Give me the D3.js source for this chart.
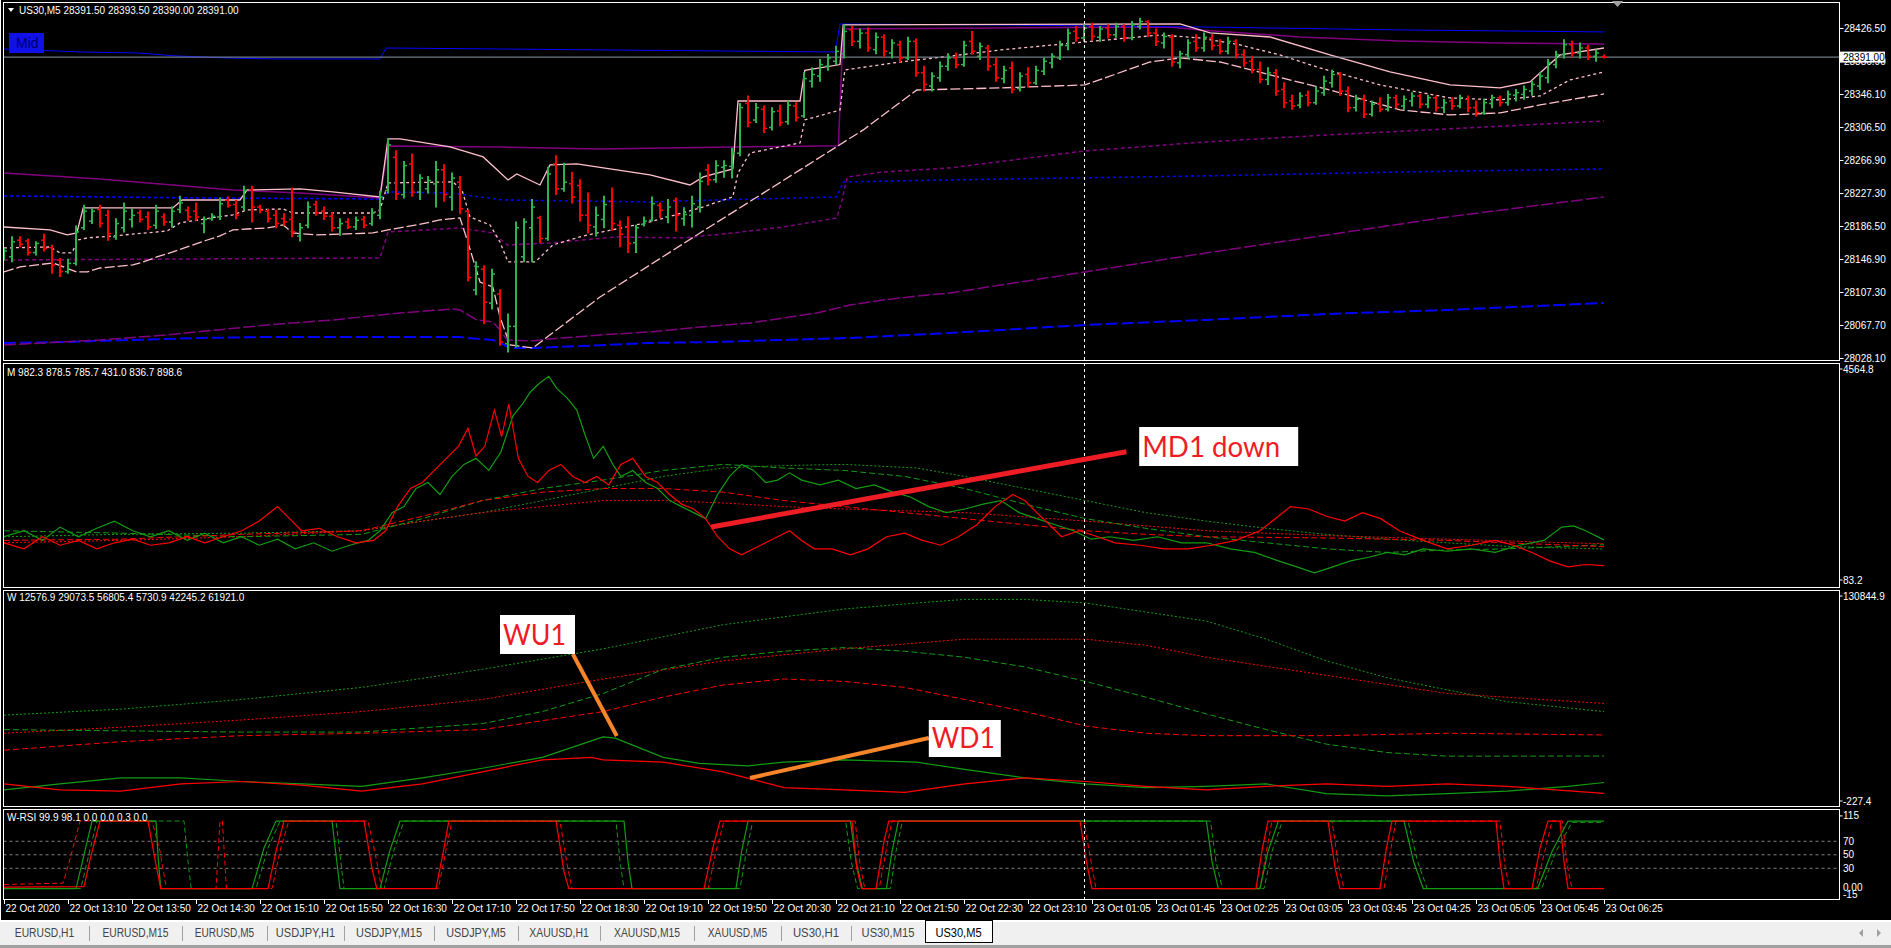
<!DOCTYPE html>
<html><head><meta charset="utf-8">
<script src="https://cdn.jsdelivr.net/npm/d3@7"></script>
<style>
html,body{margin:0;padding:0;background:#000;overflow:hidden}
svg{display:block}
</style></head><body>
<svg id="chart" width="1891" height="948"></svg>
<script>
// ---------------- DATA ----------------
const symbolTitle = "US30,M5";
const headerPrices = ["28391.50", "28393.50", "28390.00", "28391.00"];
const currentPrice = 28391.00;
const priceTicks = [28426.50, 28386.90, 28346.10, 28306.50, 28266.90, 28227.30, 28186.50, 28146.90, 28107.30, 28067.70, 28028.10];
const timeLabels = ["22 Oct 2020","22 Oct 13:10","22 Oct 13:50","22 Oct 14:30","22 Oct 15:10","22 Oct 15:50","22 Oct 16:30","22 Oct 17:10","22 Oct 17:50","22 Oct 18:30","22 Oct 19:10","22 Oct 19:50","22 Oct 20:30","22 Oct 21:10","22 Oct 21:50","22 Oct 22:30","22 Oct 23:10","23 Oct 01:05","23 Oct 01:45","23 Oct 02:25","23 Oct 03:05","23 Oct 03:45","23 Oct 04:25","23 Oct 05:05","23 Oct 05:45","23 Oct 06:25"];
const timeLabelBars = [0,8,16,24,32,40,48,56,64,72,80,88,96,104,112,120,128,136,144,152,160,168,176,184,192,200];
const crosshairBar = 135;
const tabNames = ["EURUSD,H1","EURUSD,M15","EURUSD,M5","USDJPY,H1","USDJPY,M15","USDJPY,M5","XAUUSD,H1","XAUUSD,M15","XAUUSD,M5","US30,H1","US30,M15","US30,M5"];
const activeTab = "US30,M5";

// OHLC bars [open, high, low, close]
const ohlc = [
[28148,28160,28146,28157],[28150,28174,28144,28168],[28170,28174,28162,28165],[28169,28171,28152,28155],[28155,28168,28152,28166],
[28170,28177,28157,28160],[28161,28164,28130,28140],[28146,28148,28126,28132],[28132,28147,28130,28142],[28142,28187,28140,28180],
[28185,28212,28183,28205],[28193,28208,28190,28205],[28207,28212,28186,28190],[28200,28206,28170,28178],[28174,28196,28171,28190],
[28185,28215,28180,28205],[28195,28208,28186,28200],[28203,28206,28192,28195],[28198,28204,28183,28186],[28188,28212,28184,28205],
[28198,28202,28188,28192],[28192,28210,28186,28205],[28207,28223,28203,28215],[28206,28210,28194,28198],[28205,28215,28194,28198],
[28190,28198,28179,28195],[28196,28202,28194,28199],[28198,28221,28195,28214],[28218,28222,28210,28212],[28213,28218,28196,28200],
[28210,28235,28206,28230],[28231,28235,28192,28210],[28210,28212,28203,28206],[28205,28207,28192,28196],[28200,28206,28185,28190],
[28196,28202,28188,28192],[28195,28233,28174,28180],[28175,28190,28169,28185],[28188,28216,28185,28210],[28213,28217,28200,28203],
[28205,28210,28195,28199],[28199,28203,28181,28185],[28185,28196,28176,28190],[28192,28196,28184,28186],[28186,28198,28183,28194],
[28195,28199,28185,28188],[28190,28208,28188,28203],[28200,28229,28196,28222],[28230,28292,28227,28285],[28270,28278,28219,28226],
[28225,28265,28221,28260],[28262,28274,28223,28228],[28228,28249,28219,28245],[28232,28247,28227,28242],[28238,28265,28210,28255],
[28255,28261,28217,28225],[28222,28251,28206,28245],[28240,28247,28202,28208],[28205,28206,28121,28125],[28110,28144,28104,28138],
[28135,28139,28069,28095],[28094,28135,28087,28129],[28105,28110,28043,28047],[28045,28081,28035,28066],[28066,28192,28041,28185],
[28150,28196,28144,28192],[28185,28219,28144,28210],[28197,28199,28167,28172],[28172,28258,28170,28250],[28262,28272,28225,28232],
[28232,28263,28229,28240],[28238,28252,28215,28222],[28236,28243,28193,28200],[28200,28227,28179,28188],[28186,28210,28175,28200],
[28195,28223,28185,28213],[28217,28233,28182,28190],[28188,28193,28162,28177],[28186,28198,28155,28166],[28167,28188,28155,28185],
[28189,28198,28187,28193],[28194,28222,28193,28214],[28212,28215,28197,28206],[28198,28219,28191,28210],[28218,28221,28181,28200],
[28196,28209,28188,28201],[28200,28223,28186,28214],[28210,28251,28204,28241],[28255,28261,28237,28243],[28243,28266,28240,28260],
[28258,28266,28246,28260],[28259,28281,28245,28275],[28275,28335,28272,28330],[28335,28344,28307,28312],[28315,28335,28312,28330],
[28328,28332,28300,28305],[28306,28330,28303,28325],[28326,28333,28308,28312],[28313,28338,28310,28333],[28332,28336,28314,28318],
[28320,28372,28318,28365],[28362,28378,28355,28370],[28368,28388,28362,28382],[28380,28394,28375,28390],[28386,28404,28382,28398],
[28395,28430,28390,28422],[28424,28428,28405,28410],[28410,28425,28402,28420],[28420,28426,28398,28402],[28400,28420,28395,28415],
[28415,28418,28392,28398],[28396,28412,28390,28408],[28406,28410,28385,28390],[28390,28415,28388,28410],[28410,28413,28368,28372],
[28372,28380,28350,28358],[28356,28372,28350,28368],[28366,28385,28362,28380],[28380,28395,28375,28390],[28390,28396,28378,28382],
[28382,28410,28380,28405],[28410,28422,28395,28398],[28392,28408,28388,28404],[28402,28405,28375,28380],[28382,28390,28362,28366],
[28365,28380,28360,28375],[28378,28385,28348,28352],[28353,28372,28350,28368],[28370,28378,28355,28360],[28360,28380,28358,28375],
[28374,28390,28370,28386],[28384,28395,28378,28392],[28390,28410,28388,28405],[28405,28425,28400,28420],[28422,28428,28410,28414],
[28414,28430,28410,28426],[28428,28432,28412,28416],[28415,28428,28410,28425],[28426,28430,28414,28418],[28418,28432,28415,28428],
[28428,28430,28410,28414],[28414,28434,28412,28430],[28428,28438,28425,28434],[28434,28435,28416,28420],[28420,28425,28405,28410],
[28408,28420,28402,28416],[28415,28418,28380,28385],[28384,28398,28378,28395],[28394,28412,28390,28408],[28410,28418,28398,28402],
[28402,28420,28398,28415],[28414,28418,28400,28405],[28405,28412,28395,28398],[28398,28415,28395,28410],[28410,28412,28390,28394],
[28394,28400,28380,28384],[28386,28392,28372,28376],[28376,28385,28360,28364],[28364,28378,28358,28372],[28372,28376,28345,28350],
[28352,28360,28330,28336],[28338,28345,28328,28332],[28333,28348,28330,28344],[28345,28350,28332,28336],[28336,28355,28334,28350],
[28348,28368,28345,28362],[28360,28375,28355,28370],[28370,28372,28345,28350],[28350,28355,28325,28330],[28330,28345,28326,28340],
[28340,28345,28318,28322],[28322,28338,28320,28334],[28335,28342,28325,28328],[28328,28346,28326,28342],[28342,28345,28330,28334],
[28332,28344,28328,28340],[28338,28348,28332,28344],[28344,28346,28330,28334],[28334,28345,28330,28342],[28342,28344,28326,28330],
[28330,28340,28324,28336],[28338,28342,28328,28332],[28332,28345,28330,28342],[28340,28344,28325,28330],[28330,28338,28320,28324],
[28324,28340,28322,28336],[28335,28345,28330,28342],[28342,28344,28332,28336],[28336,28350,28333,28346],[28345,28352,28338,28348],
[28346,28356,28340,28352],[28350,28362,28345,28358],[28356,28372,28352,28368],[28366,28388,28360,28384],[28382,28398,28378,28394],
[28394,28412,28390,28406],[28406,28410,28392,28396],[28396,28408,28390,28402],[28402,28405,28388,28392],[28392,28400,28386,28396],
[28391.5,28393.5,28390,28391]
];

// main-pane indicator lines: [barIndex, price]
const blueUpper = [[0,28400.8],[6.6,28398.4],[9.5,28397.2],[16.6,28396],[21.6,28392.4],[27.9,28390],[33.6,28388.8],[47,28388.8],[47.75,28402],[103.9,28397.2],[104.5,28431],[124.5,28429.8],[149.5,28427.4],[174.5,28423.8],[200,28421.4]];
const purpleUpper = [[0,28251.1],[12,28243.9],[28.6,28230.6],[37,28227],[47,28221],[48,28283.7],[62,28282.5],[74.5,28280.1],[91.1,28282.5],[104.3,28284],[104.9,28425],[124.5,28426.2],[145.75,28427.4],[149.5,28423.8],[162,28415.3],[174.5,28410.5],[187,28408.1],[200,28406.9]];
const pinkUpper = [[0,28185.9],[5.75,28182.3],[7.9,28176.3],[9.1,28178.7],[9.9,28208.9],[21.1,28208.9],[22.25,28218.5],[29.5,28218.5],[30.4,28230.6],[37,28231.8],[41.1,28228.2],[47,28222.2],[48,28292.2],[49.5,28292.2],[55.75,28282.5],[59.9,28270.5],[63,28242.7],[64.1,28249.9],[67,28236.6],[68.25,28260.8],[71.6,28262],[80.75,28248.7],[85.75,28236.6],[87.4,28246.3],[91.1,28256],[91.75,28338],[99.5,28338],[100.1,28375],[104.5,28382],[104.9,28430],[147,28431],[150.75,28420.2],[158.25,28415.3],[165.75,28393.6],[173.25,28373.1],[180.75,28357.4],[187,28353.8],[190.75,28361],[194.5,28393.6],[200,28402]];
const pinkMiddle = [[0,28160.6],[5.75,28161.8],[7,28154.6],[8.5,28154.6],[9.25,28170.2],[10.4,28172.7],[13.6,28175.1],[20.4,28181.1],[22,28190.8],[26.6,28198],[28.6,28200.4],[30.4,28206.5],[34.9,28207.7],[36.1,28202.8],[46.1,28202.8],[47,28206.5],[48,28239.1],[56.1,28240.3],[57.25,28230.6],[58.25,28198],[60.75,28188.4],[62,28167.8],[63,28143.7],[66.4,28143.7],[68.6,28164.2],[72.4,28175.1],[80.75,28192],[87,28208.9],[91.1,28222.2],[91.75,28251.1],[93.25,28275.3],[99.5,28287.4],[100.1,28315.1],[104.5,28327.2],[105.1,28375.5],[112,28385.1],[119.5,28393.6],[124.5,28399.6],[135.1,28409.3],[144.5,28417.7],[149.5,28414.1],[154.5,28405.7],[159.5,28393.6],[164.5,28377.9],[172,28357.4],[180.75,28341.7],[187,28339.3],[192,28344.1],[195.75,28363.4],[200,28373.1]];
const pinkLower = [[0,28131.6],[2,28137.7],[6.1,28142.5],[9.1,28131.6],[10.4,28131.6],[12,28136.4],[16.1,28140.1],[17.4,28143.7],[19.1,28149.7],[21.1,28155.8],[22.9,28161.8],[25.4,28170.2],[27,28175.1],[28.6,28182.3],[30.4,28183.5],[32.9,28184.7],[34.9,28188.4],[36.1,28178.7],[39.1,28176.3],[46.1,28178.7],[48,28182.3],[51.6,28188.4],[54.5,28194.4],[57,28196.8],[57.9,28170.2],[59.5,28119.5],[61.1,28113.5],[62,28077.3],[63.25,28043.5],[66.1,28039.9],[74.5,28101.4],[87,28178.7],[99.5,28254.8],[107.4,28303.1],[114.1,28351.3],[124.5,28353.8],[135.1,28357.4],[143.25,28385.1],[147,28390],[152,28385.1],[158.25,28369.5],[165.75,28351.3],[174.5,28327.2],[180.75,28321.2],[187,28323.6],[192,28333.2],[200,28346.5]];
const blueDotted = [[0,28223.4],[24.5,28221],[47,28219.7],[48,28228.2],[55.75,28227],[62.4,28218.5],[72.4,28217.3],[80.75,28216.1],[89.1,28218.5],[99.5,28221],[104.1,28222.2],[104.9,28240.3],[118.25,28242.7],[149.5,28247.5],[174.5,28252.3],[200,28256]];
const blueLower = [[0,28045.9],[7.9,28047.1],[16.1,28049.5],[24.5,28051.9],[32.9,28053.1],[57,28053.1],[57.9,28051.9],[61.1,28049.5],[62,28045.9],[63.25,28039.9],[66.1,28039.9],[72.4,28042.3],[80.75,28045.9],[89.1,28047.1],[97.4,28049.5],[105.75,28051.9],[118.25,28057.9],[135.1,28067.6],[150.25,28073.7],[165.4,28080.9],[180.4,28085.7],[200,28094.2]];
const purpleDashed = [[0,28146.1],[47,28148.5],[48,28179.9],[57,28184.7],[61.1,28178.7],[62.9,28164.2],[68.25,28166.6],[76.6,28173.9],[84.9,28172.7],[91.1,28178.7],[97.4,28185.9],[104.1,28196.8],[104.75,28218.5],[105.4,28246.3],[109.9,28252.3],[118.25,28257.2],[135.1,28277.7],[150.25,28288.6],[165.4,28297],[180.4,28304.3],[200,28313.9]];
const purpleLower = [[0,28043.5],[12,28049.5],[20.4,28055.6],[32.9,28067.6],[41.1,28073.7],[49.5,28082.1],[56.1,28086.9],[57,28085.7],[59.1,28073.7],[61.1,28071.2],[62,28061.6],[62.9,28049.5],[65.75,28048.3],[68.25,28050.7],[74.5,28055.6],[80.75,28059.2],[87,28065.2],[93.25,28070],[97.4,28076.1],[101.6,28082.1],[105.75,28091.8],[109.9,28097.8],[114.1,28102.6],[118.25,28106.3],[135.1,28131.6],[150.25,28154.6],[165.4,28176.3],[180.4,28198],[200,28222.2]];

// "M" sub-window
const mHeader = ["982.3","878.5","785.7","431.0","836.7","898.6"];
const mRange = [83.2, 4564.8];
const mGreen = [[0,1049],[2.5,1177],[4.8,971],[7,1255],[9.3,1049],[11.6,1229],[13.8,1383],[16.1,1177],[18.3,1049],[20.6,1177],[22.9,971],[25.1,1126],[27.4,920],[29.7,1049],[31.9,868],[34.2,997],[36.4,791],[38.7,920],[41,740],[43.2,868],[45.5,971],[47,1177],[48.5,1564],[50,1692],[51.5,2078],[53,2207],[54.5,1950],[56,2336],[57.5,2593],[59,2722],[60.6,2464],[62.1,2851],[63.6,3623],[64.8,3880],[65.8,4138],[66.9,4318],[68.1,4472],[69.1,4215],[70.4,4009],[71.6,3751],[72.6,3237],[73.7,2722],[74.9,2979],[76.1,2593],[77.1,2336],[78.6,2464],[80.2,2207],[81.7,2078],[83.2,1821],[84.7,1692],[86.2,1564],[87.7,1435],[89.2,1950],[90.7,2336],[92.2,2593],[93.7,2464],[95.2,2207],[96.7,2258],[98.2,2413],[99.7,2258],[102,2155],[104.3,2258],[106.5,2078],[108.8,2155],[111.1,2001],[113.3,1898],[115.6,1692],[117.8,1564],[120.1,1641],[122.4,1744],[124.6,1821],[126.9,1564],[129.1,1435],[131.4,1306],[133.7,1177],[135.9,997],[138.2,1049],[141.2,971],[144.2,1049],[147.2,920],[150.3,920],[153.3,791],[156.3,714],[159.3,534],[161.6,405],[163.8,277],[166.1,405],[168.3,534],[170.6,611],[172.9,714],[175.1,663],[177.4,791],[180.4,740],[183.4,791],[186.4,714],[189.4,868],[192.5,971],[194.7,1255],[196.2,1280],[197.7,1177],[200,982.3]];
const mRed = [[0,920],[2.5,791],[4.8,1049],[7,868],[9.3,971],[11.6,791],[13.8,920],[16.1,997],[18.3,868],[20.6,920],[22.9,1049],[25.1,920],[27.4,1049],[29.7,1177],[31.9,1383],[34.2,1692],[35.7,1435],[37.2,1177],[39.4,1229],[41.7,1049],[44,920],[46.2,971],[47.7,1177],[49.2,1692],[50.8,2078],[52.3,2207],[53.8,2464],[55.3,2722],[56.8,2979],[58,3365],[59,2773],[60.1,2979],[61.3,3751],[62.2,3185],[63.1,3880],[64.3,2722],[65.5,2336],[66.7,2207],[68.1,2464],[69.6,2593],[71.1,2336],[72.6,2207],[74.1,2336],[75.6,2155],[77.1,2593],[78.6,2722],[80.2,2336],[81.7,2207],[83.2,1950],[84.7,1744],[86.2,1641],[87.7,1435],[89.2,1049],[90.7,791],[92.2,663],[93.7,791],[95.2,920],[96.7,1049],[98.2,1177],[99.7,971],[101.3,791],[103.5,791],[105.8,663],[108,791],[110.3,1049],[112.6,1126],[114.8,971],[117.1,868],[119.3,1049],[121.6,1306],[123.9,1692],[126.1,1950],[127.6,1821],[129.1,1564],[130.7,1306],[132.2,1049],[134.4,1177],[136.7,1049],[138.9,920],[142,868],[145,791],[148,791],[151,868],[154,971],[157,1177],[159.3,1486],[160.8,1692],[163.1,1641],[165.3,1486],[167.6,1383],[169.8,1564],[172.1,1435],[174.4,1177],[177.4,971],[180.4,791],[183.4,868],[186.4,971],[188.7,868],[191,714],[193.2,534],[195.5,405],[197.7,457],[200,431]];
const mGreenDash = [[0,1177],[14.6,1126],[29.7,1049],[44.7,1100],[52.3,1435],[59.8,1821],[67.3,2078],[74.9,2258],[82.4,2464],[89.9,2593],[97.5,2516],[105,2464],[112.6,2336],[120.1,2078],[127.6,1744],[135.2,1435],[142.7,1229],[150.3,1049],[157.8,920],[165.3,791],[172.9,714],[180.4,766],[187.9,791],[200,878.5]];
const mGreenDot = [[0,1049],[14.6,1100],[29.7,1126],[44.7,1177],[52.3,1383],[59.8,1564],[67.3,1821],[74.9,2078],[82.4,2336],[89.9,2516],[97.5,2568],[105,2593],[114.1,2516],[120.1,2336],[127.6,2078],[135.2,1821],[142.7,1564],[150.3,1383],[157.8,1229],[165.3,1100],[172.9,997],[180.4,920],[187.9,843],[200,785.7]];
const mRedDash = [[0,971],[14.6,997],[29.7,1100],[44.7,1177],[52.3,1486],[59.8,1821],[67.3,2001],[74.9,2078],[82.4,2078],[89.9,2001],[97.5,1821],[105,1692],[112.6,1564],[120.1,1435],[127.6,1306],[135.2,1177],[142.7,1100],[150.3,1049],[165.3,1023],[180.4,971],[200,836.7]];
const mRedDot = [[0,920],[14.6,971],[29.7,1049],[44.7,1177],[52.3,1383],[59.8,1564],[67.3,1692],[74.9,1821],[82.4,1821],[89.9,1770],[97.5,1692],[105,1641],[120.1,1564],[135.2,1383],[150.3,1177],[165.3,1074],[180.4,997],[200,898.6]];

// "W" sub-window
const wHeader = ["12576.9","29073.5","56805.4","5730.9","42245.2","61921.0"];
const wRange = [-227.4, 130844.9];
const wGreen = [[0,7922],[7,11686],[14.6,15450],[22.1,15450],[29.7,13192],[37.2,11686],[44.7,10181],[52.3,15450],[59.8,21473],[67.3,28248],[74.9,41045],[76.4,40292],[82.4,28248],[86.9,24484],[93,22978],[97.5,25237],[105,26742],[114.1,25237],[120.1,20720],[127.6,15450],[135.2,11686],[142.7,9428],[150.3,10181],[157.8,11686],[165.3,5664],[172.9,4158],[180.4,5664],[187.9,7170],[195.5,10181],[200,12576.9]];
const wGreenDash = [[0,45563],[14.6,44810],[29.7,44057],[44.7,44057],[59.8,49326],[67.3,56854],[74.9,68146],[82.4,83202],[89.9,90730],[97.5,94494],[105,96752],[112.6,94494],[120.1,90730],[127.6,84708],[135.2,75674],[142.7,65888],[150.3,55349],[157.8,45563],[165.3,36528],[172.9,31259],[180.4,29000],[200,29073.5]];
const wGreenDot = [[0,54596],[14.6,58360],[29.7,64382],[44.7,71910],[59.8,83202],[74.9,95999],[89.9,111056],[105,120842],[114.1,124606],[120.1,126864],[127.6,126864],[135.2,124606],[150.3,113314],[157.8,102022],[165.3,88471],[172.9,77932],[180.4,70404],[187.9,63000],[200,56805.4]];
const wRed = [[0,11686],[7,7922],[14.6,7170],[22.1,11686],[29.7,13192],[37.2,10934],[44.7,7170],[52.3,11686],[59.8,19214],[67.3,26742],[73.4,28248],[74.9,26742],[82.4,25237],[89.9,19214],[97.5,9428],[105,7922],[112.6,6417],[120.1,11686],[127.6,15450],[135.2,13192],[142.7,10181],[150.3,7922],[157.8,10181],[165.3,11686],[172.9,10181],[180.4,11686],[187.9,10181],[200,5730.9]];
const wRedDash = [[0,32764],[14.6,38034],[29.7,41798],[44.7,43304],[59.8,45563],[74.9,56854],[82.4,65888],[89.9,73415],[97.5,77179],[105,75674],[112.6,71910],[120.1,64382],[127.6,56854],[135.2,47821],[142.7,43304],[150.3,41798],[165.3,41798],[180.4,43304],[200,42245.2]];
const wRedDot = [[0,43304],[14.6,47068],[29.7,51585],[44.7,56854],[59.8,64382],[74.9,77179],[89.9,88471],[105,95999],[120.1,102022],[135.2,102022],[142.7,98258],[150.3,90730],[165.3,79438],[180.4,68146],[200,61921]];

// "W-RSI" sub-window
const rsiHeader = ["99.9","98.1","0.0","0.0","0.3","0.0"];
const rsiRange = [-15, 115];
const rsiLevels = [70, 50, 30];
const rsiAxisLabels = ["115","70","50","30"];
const rsiRed = [[0,2],[10,3],[10.8,45],[12,100],[18,100],[19,35],[19.6,0],[33,0],[34,55],[35,100],[45,100],[46,30],[46.6,0],[54,0],[55,60],[55.6,100],[69,100],[70,25],[70.6,0],[87.5,0],[88.6,60],[89.5,100],[106,100],[106.6,30],[107.2,0],[109,0],[110,70],[110.6,100],[134.5,100],[135.3,40],[136,0],[156.5,0],[157.3,60],[158,100],[165.5,100],[166.4,30],[167,0],[172,0],[172.8,60],[173.5,100],[186.5,100],[187,40],[187.5,0],[191,0],[192,60],[193,100],[194.5,100],[195,40],[195.5,0],[200,0]];
const rsiRedDash = [[0,6],[7.4,8],[8.4,50],[9.5,100],[18.5,100],[19.5,55],[20.3,0],[26.5,0],[27,100],[27.3,100],[27.8,0],[33.5,0],[34.6,60],[35.6,100],[45.5,100],[46.6,40],[47.2,0],[54.3,0],[55.3,60],[56,100],[69.5,100],[70.4,35],[71,0],[88,0],[89,55],[90,100],[106.4,100],[107,35],[107.6,0],[109.4,0],[110.4,65],[111,100],[135,100],[135.8,45],[136.5,0],[157,0],[157.8,55],[158.5,100],[166,100],[166.8,35],[167.5,0],[172.5,0],[173.3,55],[174,100],[187,100],[187.6,35],[188.2,0],[191.5,0],[192.6,55],[193.5,100],[194.8,100],[195.4,35],[196,0],[200,0.3]];
const rsiGreen = [[0,0],[9,0],[10,50],[11,100],[19,100],[19.3,40],[19.6,0],[31,0],[32.5,60],[34,100],[41,100],[41.6,40],[42,0],[47,0],[48.2,55],[49.5,100],[77.5,100],[78,40],[78.5,0],[91.5,0],[92.2,55],[93,100],[105.8,100],[106.5,40],[107.3,0],[110.3,0],[111,55],[111.8,100],[150.3,100],[151,40],[151.8,0],[157,0],[158,55],[159.3,100],[175,100],[176.2,40],[177.4,0],[191.7,0],[193.5,55],[195.5,100],[200,99.9]];
const rsiGreenDash = [[0,0],[9.6,0],[10.6,50],[11.6,100],[22.5,100],[23,40],[23.4,0],[31.5,0],[33,60],[34.5,100],[41.5,100],[42.1,40],[42.5,0],[47.5,0],[48.7,55],[50,100],[76.5,100],[77,40],[77.5,0],[92,0],[92.8,55],[93.6,100],[105.2,100],[105.9,40],[106.7,0],[110.8,0],[111.5,55],[112.3,100],[150.8,100],[151.5,40],[152.3,0],[157.5,0],[158.5,55],[159.8,100],[175.5,100],[176.7,40],[177.9,0],[192.2,0],[194,55],[196,98.1],[200,98.1]];

// annotations (anchored in data units)
const md1Line = [[88.4,1257],[140.3,2864]];
const md1Box = {bar:141.9, value:3391, text:"MD1 down"};
const wu1Line = [[71.1,92779],[76.6,41594]];
const wu1Box = {bar:62, value:117122, text:"WU1"};
const wd1Line = [[93.25,15378],[115.6,40346]];
const wd1Box = {bar:115.6, value:51581, text:"WD1"};

// ---------------- DRAWING ----------------
const FONT = '"Liberation Sans", Arial, sans-serif';
const svg = d3.select('#chart');
svg.append('rect').attr('width',1891).attr('height',948).attr('fill','#000');

const XL = 3.5, XR = 1839.5;
const panes = {
  main:{top:2.5,bottom:360.5},
  m:{top:363.5,bottom:587.5},
  w:{top:590.5,bottom:806.5},
  rsi:{top:809.5,bottom:899.5}
};
const x = d3.scaleLinear().domain([0,200]).range([4,1604]);
const yMain = d3.scaleLinear().domain([28028.1,28426.5]).range([357.7,27.7]);
const yM = d3.scaleLinear().domain(mRange).range([582,372]);
const yW = d3.scaleLinear().domain(wRange).range([803,593]);
const yR = d3.scaleLinear().domain(rsiRange).range([898.7,810.9]);

const defs = svg.append('defs');
const G = {};
Object.entries(panes).forEach(([k,p])=>{
  defs.append('clipPath').attr('id','clip-'+k).append('rect')
    .attr('x',XL+0.5).attr('y',p.top+0.5).attr('width',XR-XL-1).attr('height',p.bottom-p.top-1);
  G[k] = svg.append('g').attr('clip-path','url(#clip-'+k+')');
});

function drawLine(g, data, ys, color, width, dash){
  g.append('path').datum(data)
   .attr('d', d3.line().x(d=>x(d[0])).y(d=>ys(d[1])))
   .attr('fill','none').attr('stroke',color).attr('stroke-width',width)
   .attr('stroke-dasharray',dash||null);
}

// main pane lines
const PINK='#ffc0cb', PURPLE='#800080', BLUE='#0000ff';
drawLine(G.main, blueLower, yMain, BLUE, 2, '12,4');
drawLine(G.main, purpleLower, yMain, PURPLE, 1.5, '12,3');
drawLine(G.main, blueDotted, yMain, BLUE, 1.5, '3,3');
drawLine(G.main, purpleDashed, yMain, PURPLE, 1.5, '4,3');
drawLine(G.main, purpleUpper, yMain, PURPLE, 1.5, null);
drawLine(G.main, blueUpper, yMain, BLUE, 1, null);
drawLine(G.main, pinkLower, yMain, PINK, 1.3, '10,3');
drawLine(G.main, pinkMiddle, yMain, PINK, 1.3, '3,3');
drawLine(G.main, pinkUpper, yMain, PINK, 1.3, null);

// current price line
G.main.append('line').attr('x1',XL).attr('x2',XR)
  .attr('y1',yMain(currentPrice)).attr('y2',yMain(currentPrice))
  .attr('stroke','#8c9aa6').attr('stroke-width',1);

// OHLC bars
const UP='#2fb34f', DOWN='#ff0000';
const col = d=> d[3]>=d[0]?UP:DOWN;
G.main.selectAll('line.hl').data(ohlc).join('line').attr('class','hl')
  .attr('x1',(d,i)=>x(i)).attr('x2',(d,i)=>x(i))
  .attr('y1',d=>yMain(d[1])-0.5).attr('y2',d=>yMain(d[2])+0.5)
  .attr('stroke',col).attr('stroke-width',2);
G.main.selectAll('line.op').data(ohlc).join('line').attr('class','op')
  .attr('x1',(d,i)=>x(i)-3).attr('x2',(d,i)=>x(i))
  .attr('y1',d=>yMain(d[0])).attr('y2',d=>yMain(d[0]))
  .attr('stroke',col).attr('stroke-width',1.5);
G.main.selectAll('line.cl').data(ohlc).join('line').attr('class','cl')
  .attr('x1',(d,i)=>x(i)).attr('x2',(d,i)=>x(i)+3)
  .attr('y1',d=>yMain(d[3])).attr('y2',d=>yMain(d[3]))
  .attr('stroke',col).attr('stroke-width',1.5);

// "Mid" label
G.main.append('rect').attr('x',9).attr('y',33).attr('width',35).attr('height',20).attr('fill','#1010e8');
G.main.append('text').attr('x',16).attr('y',48).text('Mid')
  .attr('font-family',FONT).attr('font-size',14).attr('fill','#000070');

// M pane
const GREEN='#139b13', RED='#ff0000';
drawLine(G.m, mGreenDot, yM, GREEN, 1, '2,2');
drawLine(G.m, mRedDot, yM, RED, 1, '2,2');
drawLine(G.m, mGreenDash, yM, GREEN, 1, '6,3');
drawLine(G.m, mRedDash, yM, RED, 1, '6,3');
drawLine(G.m, mGreen, yM, GREEN, 1.2, null);
drawLine(G.m, mRed, yM, RED, 1.2, null);

// W pane
drawLine(G.w, wGreenDot, yW, GREEN, 1, '2,2');
drawLine(G.w, wRedDot, yW, RED, 1, '2,2');
drawLine(G.w, wGreenDash, yW, GREEN, 1, '6,3');
drawLine(G.w, wRedDash, yW, RED, 1, '6,3');
drawLine(G.w, wGreen, yW, GREEN, 1.2, null);
drawLine(G.w, wRed, yW, RED, 1.2, null);

// RSI pane
rsiLevels.forEach(v=>{
  G.rsi.append('line').attr('x1',XL).attr('x2',XR).attr('y1',yR(v)).attr('y2',yR(v))
   .attr('stroke','#808080').attr('stroke-dasharray','3,3');
});
drawLine(G.rsi, rsiGreenDash, yR, GREEN, 1, '5,3');
drawLine(G.rsi, rsiRedDash, yR, RED, 1, '5,3');
drawLine(G.rsi, rsiGreen, yR, GREEN, 1.2, null);
drawLine(G.rsi, rsiRed, yR, RED, 1.2, null);

// pane frames
Object.values(panes).forEach(p=>{
  svg.append('rect').attr('x',XL).attr('y',p.top).attr('width',XR-XL).attr('height',p.bottom-p.top)
    .attr('fill','none').attr('stroke','#fff').attr('stroke-width',1);
});
svg.append('line').attr('x1',0.5).attr('x2',0.5).attr('y1',0).attr('y2',920).attr('stroke','#fff');

// crosshair
svg.append('line').attr('x1',x(crosshairBar)+0.5).attr('x2',x(crosshairBar)+0.5).attr('y1',3).attr('y2',899)
  .attr('stroke','#fff').attr('stroke-dasharray','3,3').attr('stroke-width',1);

// headers
function txt(xp,yp,s,opts={}){
  return svg.append('text').attr('x',xp).attr('y',yp).text(s)
    .attr('font-family',FONT).attr('font-size',opts.size||10).attr('fill',opts.fill||'#fff')
    .attr('text-anchor',opts.anchor||'start');
}
svg.append('path').attr('d','M8,8 L14,8 L11,12 Z').attr('fill','#fff');
txt(19,14, symbolTitle + '  ' + headerPrices.join(' '));
txt(7,376, 'M ' + mHeader.join(' '));
txt(7,601, 'W ' + wHeader.join(' '));
txt(7,821, 'W-RSI ' + rsiHeader.join(' '));

// right axis - main
priceTicks.forEach(v=>{
  const yy=Math.round(yMain(v))+0.5;
  svg.append('line').attr('x1',XR).attr('x2',XR+4).attr('y1',yy).attr('y2',yy).attr('stroke','#fff');
  txt(1844, yy+3.5, v.toFixed(2));
});
// current price marker
svg.append('rect').attr('x',1840).attr('y',yMain(currentPrice)-5.5).attr('width',45).attr('height',11).attr('fill','#fff');
txt(1843, yMain(currentPrice)+3.5, currentPrice.toFixed(2), {fill:'#000'});

// right axis - subwindows
function sideLabel(yy, s){
  svg.append('line').attr('x1',XR).attr('x2',XR+3).attr('y1',yy).attr('y2',yy).attr('stroke','#fff');
  txt(1843, yy+3.5, s);
}
sideLabel(yM(mRange[1])-3, mRange[1].toFixed(1));
sideLabel(yM(mRange[0])-2, mRange[0].toFixed(1));
sideLabel(yW(wRange[1])+3, wRange[1].toFixed(1));
sideLabel(yW(wRange[0])-2, wRange[0].toFixed(1));
sideLabel(yR(rsiRange[1])+5, rsiAxisLabels[0]);
rsiLevels.forEach((v,i)=> txt(1843, yR(v)+3.5, rsiAxisLabels[i+1]));
txt(1843, yR(0)+2, '0.00');
txt(1843, yR(rsiRange[0])-1, String(rsiRange[0]));

// time axis
timeLabels.forEach((s,i)=>{
  const xx = Math.round(x(timeLabelBars[i]))+0.5;
  svg.append('line').attr('x1',xx).attr('x2',xx).attr('y1',900).attr('y2',904).attr('stroke','#fff');
  txt(xx+1, 912, s);
});

// chart-shift marker
svg.append('path').attr('d','M1612,1 L1623,1 L1617.5,7 Z').attr('fill','#a0a0a0');

// annotations
function annLine(g, pts, ys, color, w){
  g.append('line').attr('x1',x(pts[0][0])).attr('y1',ys(pts[0][1]))
    .attr('x2',x(pts[1][0])).attr('y2',ys(pts[1][1]))
    .attr('stroke',color).attr('stroke-width',w).attr('stroke-linecap','butt');
}
function annBox(b, ys, w, h, tw){
  const bx=x(b.bar), by=ys(b.value);
  svg.append('rect').attr('x',bx).attr('y',by).attr('width',w).attr('height',h).attr('fill','#fff');
  svg.append('text').attr('x',bx+3).attr('y',by+h-9).text(b.text)
    .attr('font-family','Lato, "Open Sans", sans-serif').attr('font-size',28).attr('fill','#ee1c25')
    .attr('textLength',tw).attr('lengthAdjust','spacingAndGlyphs');
}
annLine(svg, md1Line, yM, '#ee1c25', 5);
annBox(md1Box, yM, 159, 39, 138);
annLine(svg, wu1Line, yW, '#f7862a', 4);
annBox(wu1Box, yW, 75, 39, 63);
annLine(svg, wd1Line, yW, '#f7862a', 4);
annBox(wd1Box, yW, 72, 37, 63);

// bottom tab bar
svg.append('rect').attr('x',0).attr('y',920).attr('width',1891).attr('height',2).attr('fill','#fff');
svg.append('rect').attr('x',0).attr('y',922).attr('width',1891).attr('height',23).attr('fill','#f0f0f0');
svg.append('rect').attr('x',0).attr('y',945).attr('width',1891).attr('height',3).attr('fill','#a0a0a0');
const tabEdges = [0,89,182,267,344,434,518,600,694,781,851,925,992];
tabNames.forEach((name,i)=>{
  const x0=tabEdges[i], x1=tabEdges[i+1];
  if(name===activeTab){
    svg.append('rect').attr('x',x0+0.5).attr('y',920.5).attr('width',x1-x0).attr('height',22)
      .attr('fill','#fff').attr('stroke','#000').attr('stroke-width',1);
  } else if(i>0 && tabNames[i-1]!==activeTab){
    svg.append('line').attr('x1',x0+0.5).attr('x2',x0+0.5).attr('y1',926).attr('y2',941).attr('stroke','#a0a0a0');
  }
  svg.append('text').attr('x',(x0+x1)/2).attr('y',937).text(name)
    .attr('font-family',FONT).attr('font-size',12).attr('fill', name===activeTab?'#000':'#444')
    .attr('text-anchor','middle').attr('textLength', name.length*6.6).attr('lengthAdjust','spacingAndGlyphs');
});
svg.append('path').attr('d','M1863,929 L1863,937 L1859,933 Z').attr('fill','#a0a0a0');
svg.append('path').attr('d','M1877,929 L1877,937 L1881,933 Z').attr('fill','#a0a0a0');
</script>
</body></html>
